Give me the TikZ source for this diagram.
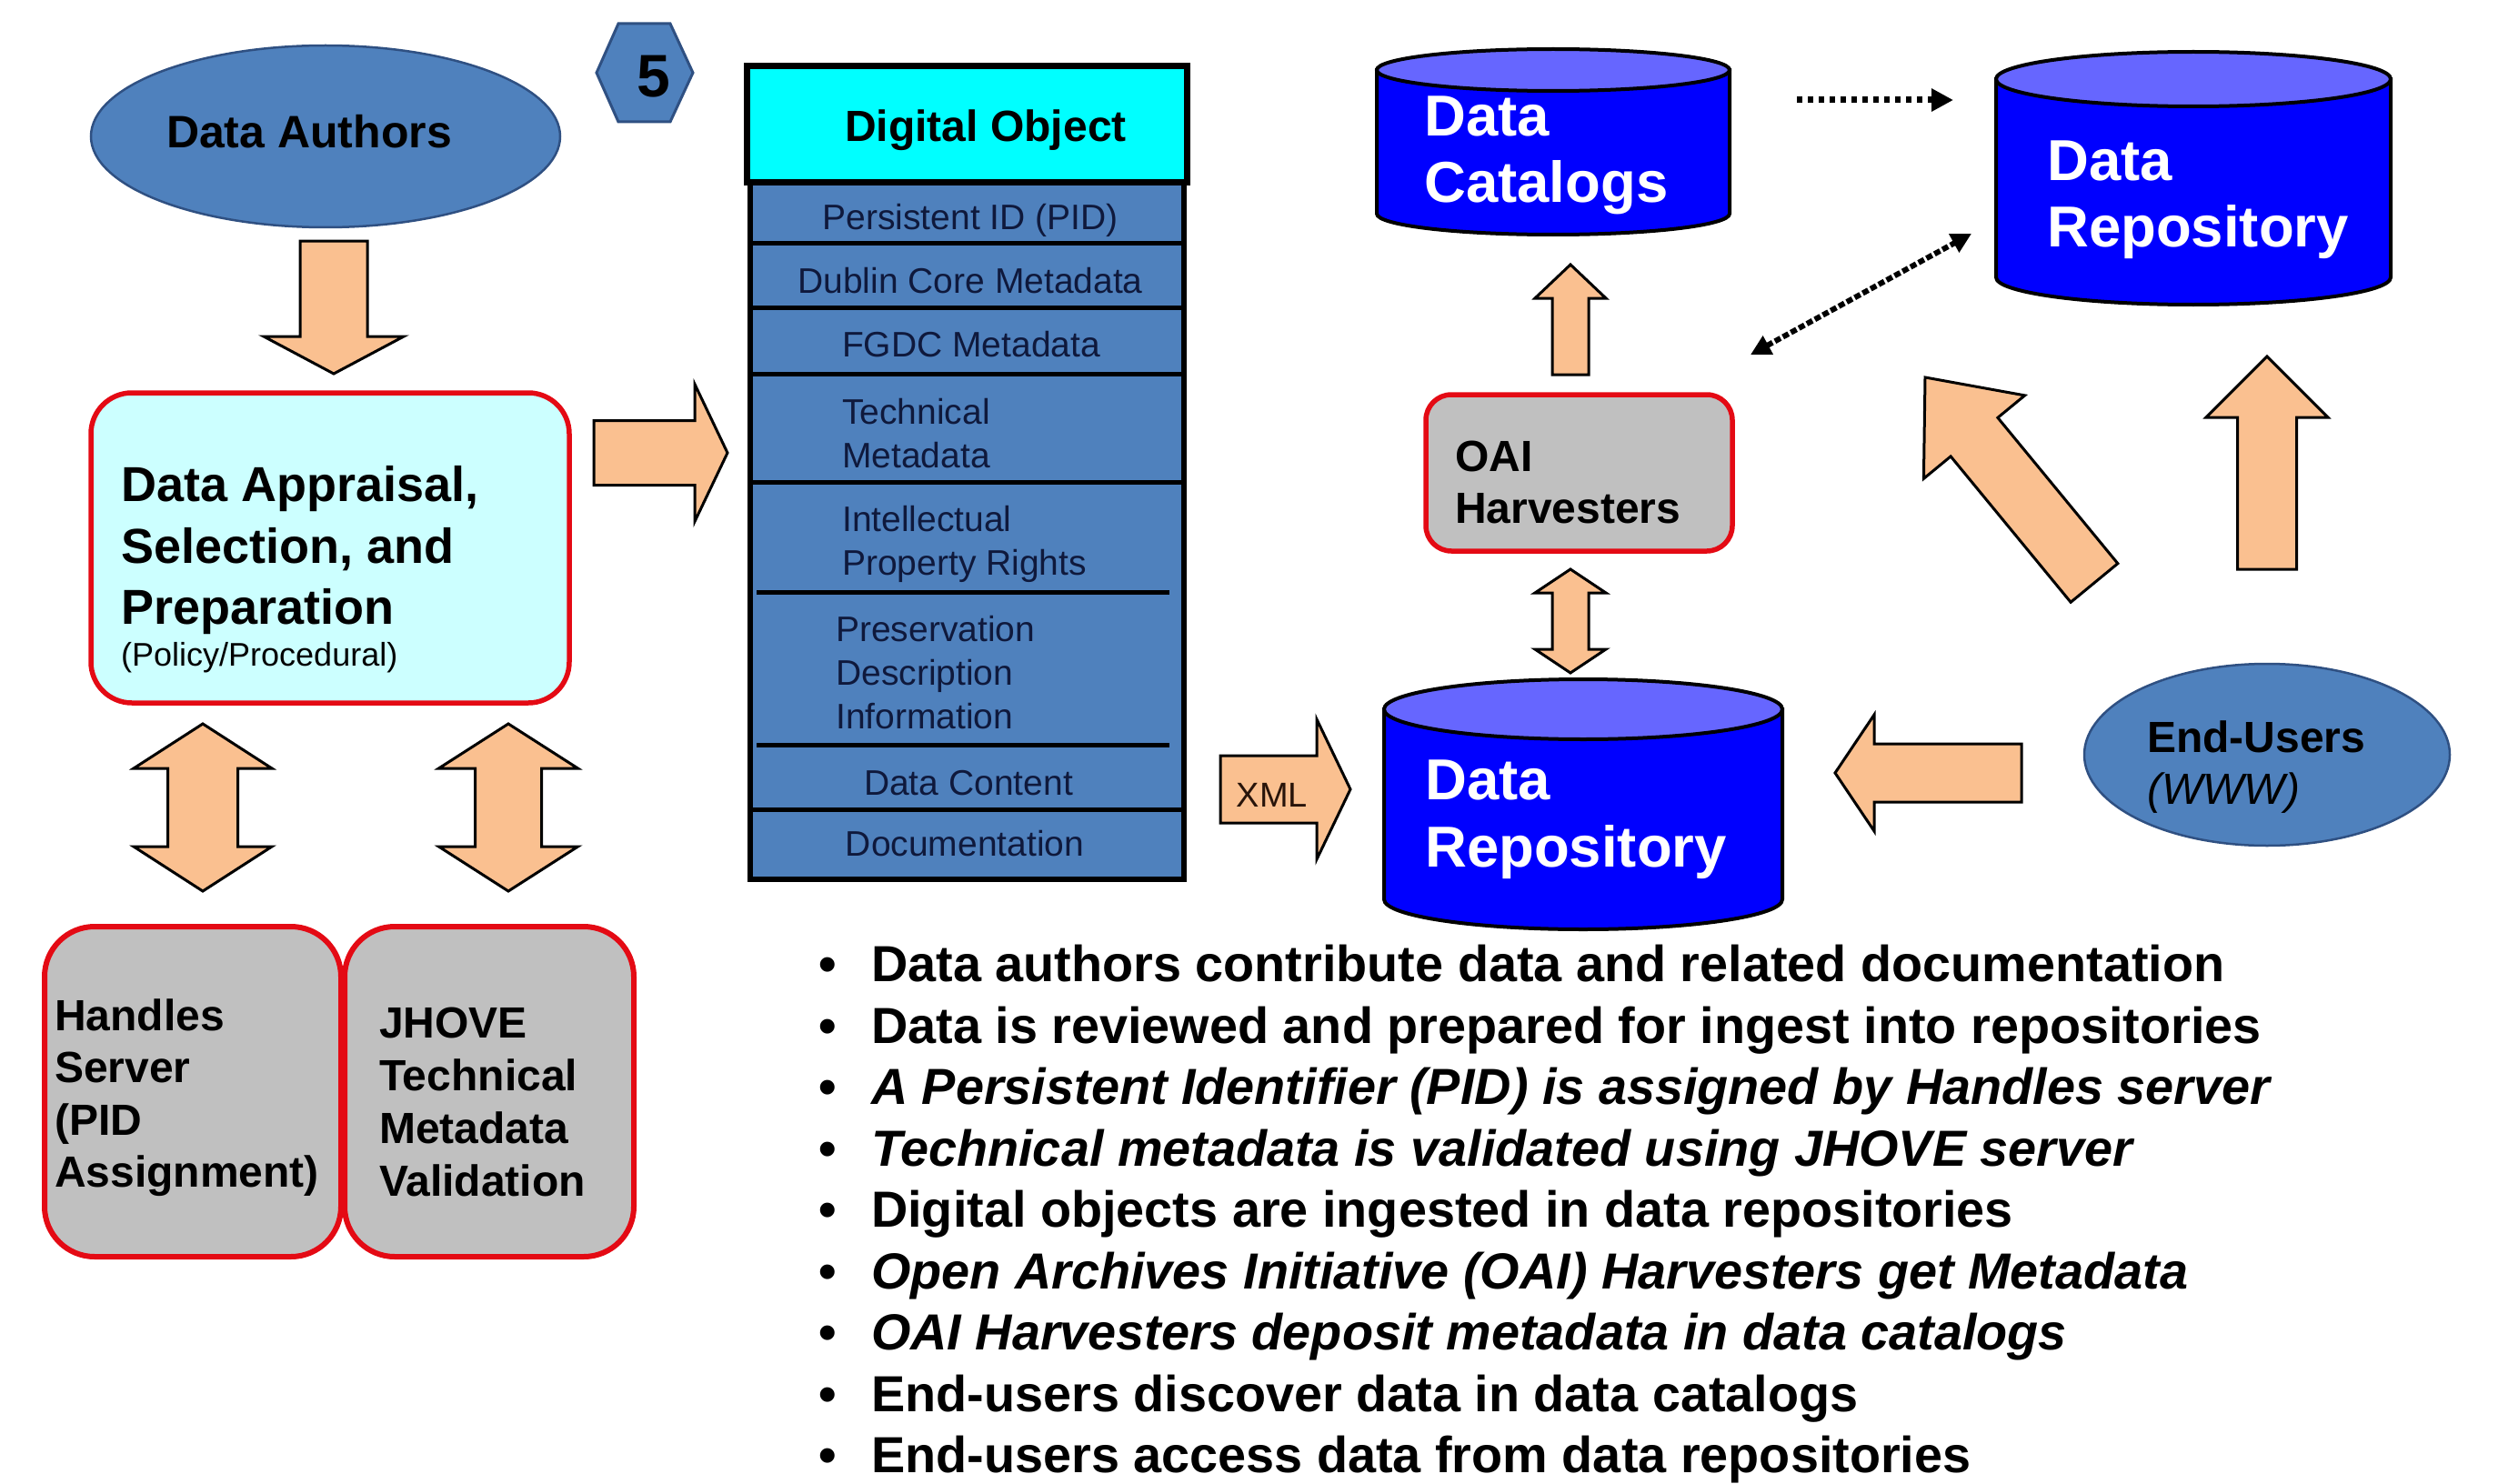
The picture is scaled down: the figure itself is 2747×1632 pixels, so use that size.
\documentclass[tikz,border=0pt]{standalone}
\usepackage{fontspec}
\setmainfont{Liberation Sans}
\usetikzlibrary{shapes.geometric,arrows.meta,calc}
\definecolor{peach}{RGB}{250,192,144}
\definecolor{steel}{RGB}{79,129,189}
\definecolor{steeldk}{RGB}{47,80,130}
\definecolor{cyanhd}{RGB}{0,255,255}
\definecolor{paleCyan}{RGB}{204,255,255}
\definecolor{redB}{RGB}{228,10,20}
\definecolor{grayB}{RGB}{192,192,192}
\definecolor{cylBody}{RGB}{0,0,255}
\definecolor{cylTop}{RGB}{102,102,255}
\definecolor{navyT}{RGB}{15,25,60}

\tikzset{
  blockarrow/.style={fill=peach, draw=black, line width=3pt, line join=miter},
  lbl/.style={inner sep=0pt, align=left, anchor=north west},
  ctr/.style={inner sep=0pt, anchor=base},
  redbox/.style={draw=redB, line width=5.5pt, inner sep=0pt},
  cylbody/.style={fill=cylBody, draw=black, line width=4pt},
  cyltop/.style={fill=cylTop, draw=black, line width=4pt},
  ovalnode/.style={ellipse, fill=steel, draw=steeldk, line width=2.5pt, inner sep=0pt},
}

% single block arrow: tail, tip, half shaft, half head, head length
\newcommand\blkarrow[5]{%
  \coordinate (hbA) at ($(#2)!#5!(#1)$);
  \draw[blockarrow] ($(#1)!#3!90:(#2)$) -- ($(hbA)!#3!90:(#2)$) -- ($(hbA)!#4!90:(#2)$)
    -- (#2) -- ($(hbA)!#4!-90:(#2)$) -- ($(hbA)!#3!-90:(#2)$) -- ($(#1)!#3!-90:(#2)$) -- cycle;}
% double block arrow
\newcommand\dblarrow[5]{%
  \coordinate (hbA) at ($(#2)!#5!(#1)$);
  \coordinate (haA) at ($(#1)!#5!(#2)$);
  \draw[blockarrow] (#1) -- ($(haA)!#4!90:(#2)$) -- ($(haA)!#3!90:(#2)$) -- ($(hbA)!#3!90:(#2)$)
    -- ($(hbA)!#4!90:(#2)$) -- (#2) -- ($(hbA)!#4!-90:(#2)$) -- ($(hbA)!#3!-90:(#2)$)
    -- ($(haA)!#3!-90:(#2)$) -- ($(haA)!#4!-90:(#2)$) -- cycle;}
% cylinder: left, right, top-ellipse centre y, bottom-arc centre y, ry, name
\newcommand\cylshape[6]{%
  \pgfmathsetmacro\cylcx{(#1+#2)/2}\pgfmathsetmacro\cylrx{(#2-#1)/2}%
  \pgfmathsetmacro\cylkx{0.5523*\cylrx}\pgfmathsetmacro\cylky{0.5523*#5}%
  \pgfmathsetmacro\cylby{#4+#5}%
  \filldraw[cylbody] (#1,#3) -- (#1,#4) .. controls (#1,#4+\cylky) and (\cylcx-\cylkx,\cylby) .. (\cylcx,\cylby)
     .. controls (\cylcx+\cylkx,\cylby) and (#2,#4+\cylky) .. (#2,#4) -- (#2,#3) -- cycle;
  \filldraw[cyltop] (\cylcx,#3) ellipse [x radius=\cylrx, y radius=#5];
  \node[inner sep=0pt, minimum width=#2-#1, minimum height=\cylby-#3+#5] (#6) at (\cylcx,{(#3-#5+\cylby)/2}) {};}

\begin{document}
\begin{tikzpicture}[x=1pt,y=-1pt]
\useasboundingbox (0,0) rectangle (2747,1632);
\fill[white] (0,0) rectangle (2747,1632);

% ---------- left column ----------
\node[ovalnode, minimum width=516pt, minimum height=200pt] (authors) at (358,150) {};
\node[ctr, font=\fontsize{50}{60}\selectfont\bfseries] (authorsTxt) at (340,163) {Data Authors};

\draw[fill=steel, draw=steeldk, line width=3pt] (656,80) -- (680,26) -- (737,26) -- (762,80) -- (737,134) -- (680,134) -- cycle;
\node[ctr, font=\fontsize{66}{70}\selectfont\bfseries] (hexNum) at (719,107) {5};

\node[redbox, rounded corners=45pt, fill=paleCyan, minimum width=526pt, minimum height=341pt] (appraisal) at (363,602.5) {};
\node[lbl, font=\fontsize{54}{67.5}\selectfont\bfseries] (appraisalTxt) at (133,512.3) {Data Appraisal,\\Selection, and\\Preparation};
\node[inner sep=0pt, anchor=base west, font=\fontsize{36}{40}\selectfont] (policyTxt) at (133,732) {(Policy/Procedural)};

\node[redbox, line width=6pt, rounded corners=55pt, fill=grayB, minimum width=326pt, minimum height=363pt] (handles) at (212,1200.5) {};
\node[redbox, line width=6pt, rounded corners=55pt, fill=grayB, minimum width=318pt, minimum height=363pt] (jhove) at (538,1200.5) {};
\node[lbl, font=\fontsize{48}{57.3}\selectfont\bfseries] (handlesTxt) at (60,1098.6) {Handles\\Server\\(PID\\Assignment)};
\node[lbl, font=\fontsize{48}{58}\selectfont\bfseries] (jhoveTxt) at (417,1107.6) {JHOVE\\Technical\\Metadata\\Validation};

\coordinate (a1s) at (367,265); \coordinate (a1e) at (367,411);
\blkarrow{a1s}{a1e}{37pt}{77pt}{41pt}
\coordinate (a2s) at (653,498); \coordinate (a2e) at (800,498);
\blkarrow{a2s}{a2e}{35.5pt}{75.5pt}{36pt}
\coordinate (a3s) at (223,796); \coordinate (a3e) at (223,980);
\dblarrow{a3s}{a3e}{38.5pt}{76pt}{49pt}
\coordinate (a4s) at (559,796); \coordinate (a4e) at (559,980);
\dblarrow{a4s}{a4e}{36.5pt}{76.5pt}{49pt}

% ---------- digital object ----------
\node[inner sep=0pt, fill=steel, draw=black, line width=6pt, minimum width=477pt, minimum height=766pt] (dobj) at (1063.5,584) {};
\foreach \yy in {267,338,411,530,890} \draw[line width=5pt] (825,\yy) -- (1302,\yy);
\foreach \yy in {651,819} \draw[line width=5pt] (832,\yy) -- (1286,\yy);
\node[inner sep=0pt, fill=cyanhd, draw=black, line width=7pt, minimum width=484pt, minimum height=128pt] (dohead) at (1063,137) {};
\node[ctr, font=\fontsize{48}{56}\selectfont\bfseries] (doheadTxt) at (1084,156) {Digital Object};
\begin{scope}[every node/.append style={text=navyT, font=\fontsize{39}{48}\selectfont}]
\node[ctr] (rPID) at (1067,252) {Persistent ID (PID)};
\node[ctr] (rDC) at (1067,322) {Dublin Core Metadata};
\node[ctr] (rFGDC) at (1068,392) {FGDC Metadata};
\node[lbl] (rTech) at (926,438.1) {Technical\\Metadata};
\node[lbl] (rIPR) at (926,556.1) {Intellectual\\Property Rights};
\node[lbl] (rPDI) at (919,677.1) {Preservation\\Description\\Information};
\node[ctr] (rDCon) at (1065,874) {Data Content};
\node[ctr] (rDoc) at (1061,941) {Documentation};
\end{scope}

% ---------- right part ----------
\cylshape{1514}{1902}{77}{235}{23}{catalogs}
\cylshape{2195}{2629}{87}{305}{30}{repoTop}
\cylshape{1522}{1960}{780}{989}{33}{repoMain}
\begin{scope}[every node/.append style={text=white, font=\fontsize{63.5}{73}\selectfont\bfseries}]
\node[lbl] (catalogsTxt) at (1566,105.5) {Data\\Catalogs};
\node[lbl] (repoTopTxt) at (2251,154.5) {Data\\Repository};
\node[lbl, font=\fontsize{63.5}{74}\selectfont\bfseries] (repoMainTxt) at (1567,835.5) {Data\\Repository};
\end{scope}

\node[redbox, rounded corners=28pt, fill=grayB, minimum width=337pt, minimum height=172pt] (oai) at (1736.5,520) {};
\node[lbl, font=\fontsize{48}{57}\selectfont\bfseries] (oaiTxt) at (1600,484.6) {OAI\\Harvesters};

\node[ovalnode, minimum width=402pt, minimum height=200pt] (endusers) at (2493,830) {};
\node[lbl, font=\fontsize{48}{57}\selectfont] (endusersTxt) at (2361,792.6) {\textbf{End-Users}\\\textit{(WWW)}};

\coordinate (a5s) at (1727,412); \coordinate (a5e) at (1727,291);
\blkarrow{a5s}{a5e}{20pt}{39pt}{37pt}
\coordinate (a6s) at (1727,626); \coordinate (a6e) at (1727,740);
\dblarrow{a6s}{a6e}{20pt}{39pt}{26pt}
\coordinate (a7s) at (1342,868); \coordinate (a7e) at (1485,868);
\blkarrow{a7s}{a7e}{37pt}{77pt}{37pt}
\node[ctr, font=\fontsize{38}{44}\selectfont, text={rgb,255:red,40;green,20;blue,10}] (xmlTxt) at (1399,887) {XML};
\coordinate (a8s) at (2223,850); \coordinate (a8e) at (2018,850);
\blkarrow{a8s}{a8e}{32pt}{64pt}{43pt}
\coordinate (a9s) at (2493,626); \coordinate (a9e) at (2493,392);
\blkarrow{a9s}{a9e}{32.5pt}{67pt}{67pt}
\coordinate (a10s) at (2303,641); \coordinate (a10e) at (2117,415);
\blkarrow{a10s}{a10e}{33.5pt}{72pt}{85pt}

\coordinate (dotS) at (1976,110); \coordinate (dotE) at (2148,110);
\draw[line width=7pt, dash pattern=on 6pt off 6pt, -{Triangle[length=24pt,width=24pt]}] (dotS) -- (dotE);
\coordinate (dashS) at (1925,390); \coordinate (dashE) at (2168,257);
\draw[line width=6pt, dash pattern=on 7pt off 3pt, {Triangle[length=22pt,width=22pt]}-{Triangle[length=22pt,width=22pt]}] (dashS) -- (dashE);

% ---------- bullet list ----------
\node[lbl, font=\fontsize{55.8}{67.5}\selectfont\bfseries] (bullets) at (900,1039) {%
\makebox[58pt][l]{\textbullet}Data authors contribute data and related documentation\\
\makebox[58pt][l]{\textbullet}Data is reviewed and prepared for ingest into repositories\\
\makebox[58pt][l]{\textbullet}\textit{A Persistent Identifier (PID) is assigned by Handles server}\\
\makebox[58pt][l]{\textbullet}\textit{Technical metadata is validated using JHOVE server}\\
\makebox[58pt][l]{\textbullet}Digital objects are ingested in data repositories\\
\makebox[58pt][l]{\textbullet}\textit{Open Archives Initiative (OAI) Harvesters get Metadata}\\
\makebox[58pt][l]{\textbullet}\textit{OAI Harvesters deposit metadata in data catalogs}\\
\makebox[58pt][l]{\textbullet}End-users discover data in data catalogs\\
\makebox[58pt][l]{\textbullet}End-users access data from data repositories};
\end{tikzpicture}
\end{document}
